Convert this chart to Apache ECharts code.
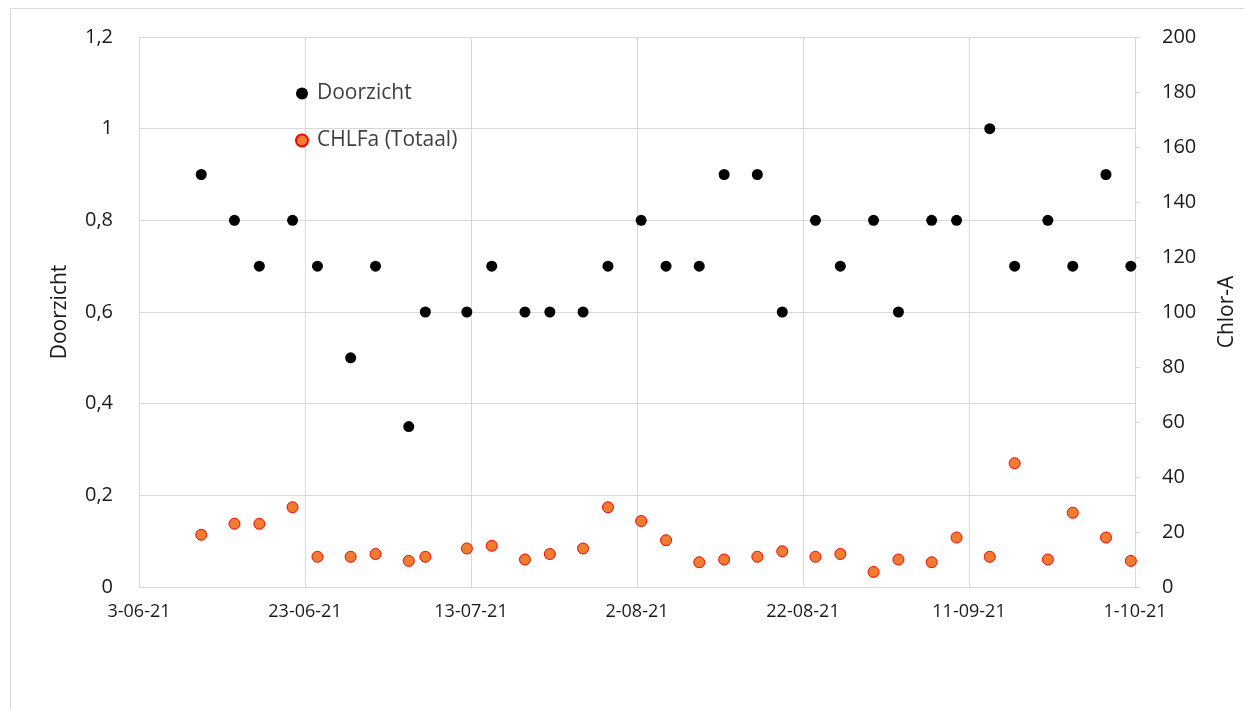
<!DOCTYPE html>
<html>
<head>
<meta charset="utf-8">
<script src="https://cdn.jsdelivr.net/npm/echarts@6/dist/echarts.min.js"></script>
<style>
html,body{margin:0;padding:0;background:#fff;}
#chart{width:1244px;height:709px;}
</style>
</head>
<body>
<div id="chart"></div>
<script>
// Sample dates (day-month, 2021)
var dates = ["10-06","14-06","17-06","21-06","24-06","28-06","1-07","5-07","7-07","12-07",
  "15-07","19-07","22-07","26-07","29-07","2-08","5-08","9-08","12-08","16-08",
  "19-08","23-08","26-08","30-08","2-09","6-09","9-09","13-09","16-09","20-09",
  "23-09","27-09","30-09"];
var doorzicht = [0.9,0.8,0.7,0.8,0.7,0.5,0.7,0.35,0.6,0.6,
  0.7,0.6,0.6,0.6,0.7,0.8,0.7,0.7,0.9,0.9,
  0.6,0.8,0.7,0.8,0.6,0.8,0.8,1.0,0.7,0.8,
  0.7,0.9,0.7];
var chlfa = [19,23,23,29,11,11,12,9.5,11,14,
  15,10,12,14,29,24,17,9,10,11,
  13,11,12,5.5,10,9,18,11,45,10,
  27,18,9.5];
var leftTicks = {min:0, max:1.2, step:0.2};
var rightTicks = {min:0, max:200, step:20};
var xStart = "3-06", xEnd = "1-10", xStepDays = 20;

var DAY = 86400000;
function toMs(s){ var p=s.split('-'); return Date.UTC(2021, +p[1]-1, +p[0]); }
// Excel date axis centres each day's point in the middle of the day
function pt(s){ return toMs(s) + DAY/2; }

var blackData = dates.map(function(d,i){ return [pt(d), doorzicht[i]]; });
var orangeData = dates.map(function(d,i){ return [pt(d), chlfa[i]]; });

var font = 'Open Sans';
var txt = '#1a1a1a';
var gridC = '#d9d9d9';

var chart = echarts.init(document.getElementById('chart'));
chart.setOption({
  animation:false,
  backgroundColor:'#fff',
  graphic:[{type:'rect', shape:{x:10.5,y:8.5,width:1250,height:720}, style:{fill:'none', stroke:gridC, lineWidth:1}, silent:true, z:-1}],
  grid:{left:139, right:109, top:37, bottom:122, outerBoundsMode:'none', containLabel:false},
  legend:{
    orient:'vertical', left:290, top:78, itemGap:26,
    icon:'circle', itemWidth:12, itemHeight:12,
    textStyle:{fontFamily:font, fontSize:21, color:'#404040', padding:[0,0,0,4]},
    data:['Doorzicht','CHLFa (Totaal)']
  },
  xAxis:{
    type:'value',
    min:toMs(xStart), max:toMs(xEnd), interval:xStepDays*DAY,
    axisLine:{show:true, lineStyle:{color:gridC, width:1}},
    axisTick:{show:false},
    splitLine:{show:true, lineStyle:{color:gridC, width:1}},
    axisLabel:{
      fontFamily:font, fontSize:18, color:txt, margin:16,
      formatter:function(v){
        var d=new Date(v);
        var mm=('0'+(d.getUTCMonth()+1)).slice(-2);
        return d.getUTCDate()+'-'+mm+'-'+String(d.getUTCFullYear()).slice(-2);
      }
    }
  },
  yAxis:[{
    type:'value', min:leftTicks.min, max:leftTicks.max, interval:leftTicks.step,
    name:'Doorzicht', nameLocation:'middle', nameGap:68, nameRotate:90,
    nameTextStyle:{fontFamily:font, fontSize:21, color:txt},
    axisLine:{show:true, lineStyle:{color:gridC}},
    axisTick:{show:false},
    splitLine:{show:true, lineStyle:{color:gridC, width:1}},
    axisLabel:{fontFamily:font, fontSize:20, color:txt, margin:26,
      formatter:function(v){ return String(Math.round(v*10)/10).replace('.',','); }}
  },{
    type:'value', min:rightTicks.min, max:rightTicks.max, interval:rightTicks.step,
    name:'Chlor-A', nameLocation:'middle', nameGap:82, nameRotate:90,
    nameTextStyle:{fontFamily:font, fontSize:21, color:txt},
    axisLine:{show:true, lineStyle:{color:gridC}},
    axisTick:{show:true, length:5, lineStyle:{color:gridC}},
    splitLine:{show:false},
    axisLabel:{fontFamily:font, fontSize:20, color:txt, margin:27}
  }],
  series:[{
    name:'Doorzicht', type:'scatter', yAxisIndex:0,
    symbol:'circle', symbolSize:11,
    itemStyle:{color:'#000000', opacity:1},
    data:blackData, z:3
  },{
    name:'CHLFa (Totaal)', type:'scatter', yAxisIndex:1,
    symbol:'circle', symbolSize:11,
    itemStyle:{color:'#ED7D31', borderColor:'#FF0000', borderWidth:1, opacity:1},
    data:orangeData, z:4
  }]
});
</script>
</body>
</html>
